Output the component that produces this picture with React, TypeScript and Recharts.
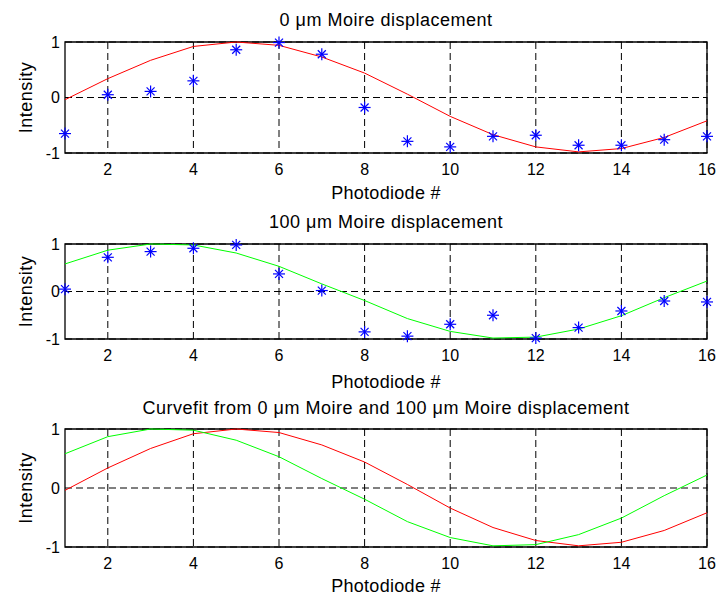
import React from 'react';
import { ComposedChart, Line, Scatter, XAxis, YAxis, CartesianGrid, ReferenceArea } from 'recharts';

const photodiodes = [1, 2, 3, 4, 5, 6, 7, 8, 9, 10, 11, 12, 13, 14, 15, 16];
const meas0 = [-0.65, 0.05, 0.11, 0.3, 0.86, 0.99, 0.78, -0.18, -0.79, -0.89, -0.7, -0.68, -0.86, -0.86, -0.76, -0.7];
const fit0 = [-0.04, 0.34, 0.67, 0.92, 1.0, 0.94, 0.73, 0.44, 0.06, -0.34, -0.67, -0.89, -0.98, -0.92, -0.72, -0.42];
const meas100 = [0.05, 0.72, 0.84, 0.91, 0.98, 0.37, 0.02, -0.85, -0.94, -0.69, -0.5, -0.98, -0.76, -0.41, -0.2, -0.22];
const fit100 = [0.58, 0.87, 1.0, 0.98, 0.81, 0.53, 0.16, -0.19, -0.57, -0.84, -0.98, -0.96, -0.79, -0.51, -0.13, 0.22];
const xTicks = [2, 4, 6, 8, 10, 12, 14, 16];
const yTicks = [-1, 0, 1];

const titles = [
  '0 \u03bcm Moire displacement',
  '100 \u03bcm Moire displacement',
  'Curvefit from 0 \u03bcm Moire and 100 \u03bcm Moire displacement',
];
const xLabel = 'Photodiode #';
const yLabel = 'Intensity';

const FONT = '"Liberation Sans", Arial, Helvetica, sans-serif';
const W = 717;
const PLOT_LEFT = 65;
const PLOT_RIGHT = 707;

const Star = (props: any) => {
  const { cx, cy } = props;
  if (cx == null || cy == null) return null;
  const a = 6;
  const d = 4;
  return (
    <g stroke="#0000ff" strokeWidth={1.2} fill="none">
      <line x1={cx - a} y1={cy} x2={cx + a} y2={cy} />
      <line x1={cx} y1={cy - a} x2={cx} y2={cy + a} />
      <line x1={cx - d} y1={cy - d} x2={cx + d} y2={cy + d} />
      <line x1={cx - d} y1={cy + d} x2={cx + d} y2={cy - d} />
    </g>
  );
};

const data = photodiodes.map((x, i) => ({
  x,
  meas0: meas0[i],
  fit0: fit0[i],
  meas100: meas100[i],
  fit100: fit100[i],
}));

type PanelProps = {
  top: number;
  plotTop: number;
  plotBottom: number;
  children: React.ReactNode;
};

const AXIS_H = 50;

function Panel({ top, plotTop, plotBottom, children }: PanelProps) {
  const height = plotBottom - top + AXIS_H;
  return (
    <div style={{ position: 'absolute', left: 0, top }}>
      <ComposedChart
        width={W}
        height={height}
        data={data}
        margin={{ top: plotTop - top, right: W - PLOT_RIGHT, left: 5, bottom: 0 }}
      >
        <CartesianGrid stroke="#000" strokeDasharray="7 4" horizontalValues={yTicks} verticalValues={xTicks} />
        <XAxis
          dataKey="x"
          type="number"
          domain={[1, 16]}
          ticks={xTicks}
          height={AXIS_H}
          axisLine={false}
          tickLine={false}
          tickSize={0}
          tickMargin={11}
          interval={0}
          tick={{ fill: '#000', fontSize: 16, fontFamily: FONT }}
        />
        <YAxis
          type="number"
          domain={[-1, 1]}
          ticks={yTicks}
          width={PLOT_LEFT - 5}
          axisLine={false}
          tickLine={false}
          tickSize={0}
          tickMargin={5}
          interval={0}
          tick={{ fill: '#000', fontSize: 16, fontFamily: FONT }}
        />
        <ReferenceArea x1={1} x2={16} y1={-1} y2={1} fill="none" stroke="#000" strokeWidth={1.3} fillOpacity={0} />
        {children}
      </ComposedChart>
    </div>
  );
}

const panels = [
  { top: 0, plotTop: 42, plotBottom: 153 },
  { top: 210, plotTop: 244, plotBottom: 339 },
  { top: 395, plotTop: 429, plotBottom: 547 },
];
const titleBaselines = [26, 228, 414];
const xLabelBaselines = [198.5, 388, 592];

export default function App() {
  const cxMid = (PLOT_LEFT + PLOT_RIGHT) / 2;
  const textStyle = { fontFamily: FONT, fontSize: 18, fill: '#000' } as const;
  return (
    <div style={{ position: 'absolute', left: 0, top: 0, width: W, height: 597, background: '#fff', overflow: 'hidden' }}>
      <Panel {...panels[0]}>
        <Line dataKey="fit0" type="linear" stroke="#ff0000" strokeWidth={1} dot={false} isAnimationActive={false} />
        <Scatter dataKey="meas0" shape={Star} isAnimationActive={false} />
      </Panel>
      <Panel {...panels[1]}>
        <Line dataKey="fit100" type="linear" stroke="#00ff00" strokeWidth={1} dot={false} isAnimationActive={false} />
        <Scatter dataKey="meas100" shape={Star} isAnimationActive={false} />
      </Panel>
      <Panel {...panels[2]}>
        <Line dataKey="fit0" type="linear" stroke="#ff0000" strokeWidth={1} dot={false} isAnimationActive={false} />
        <Line dataKey="fit100" type="linear" stroke="#00ff00" strokeWidth={1} dot={false} isAnimationActive={false} />
      </Panel>
      <svg width={W} height={597} style={{ position: 'absolute', left: 0, top: 0, pointerEvents: 'none' }}>
        {panels.map((p, i) => (
          <g key={i}>
            <text x={cxMid} y={titleBaselines[i]} textAnchor="middle" letterSpacing={0.5} {...textStyle}>
              {titles[i]}
            </text>
            <text x={cxMid} y={xLabelBaselines[i]} textAnchor="middle" letterSpacing={0.3} {...textStyle}>
              {xLabel}
            </text>
            <text
              x={31.5}
              y={(p.plotTop + p.plotBottom) / 2}
              textAnchor="middle"
              letterSpacing={0.5}
              transform={`rotate(-90 31.5 ${(p.plotTop + p.plotBottom) / 2})`}
              {...textStyle}
            >
              {yLabel}
            </text>
          </g>
        ))}
      </svg>
    </div>
  );
}
